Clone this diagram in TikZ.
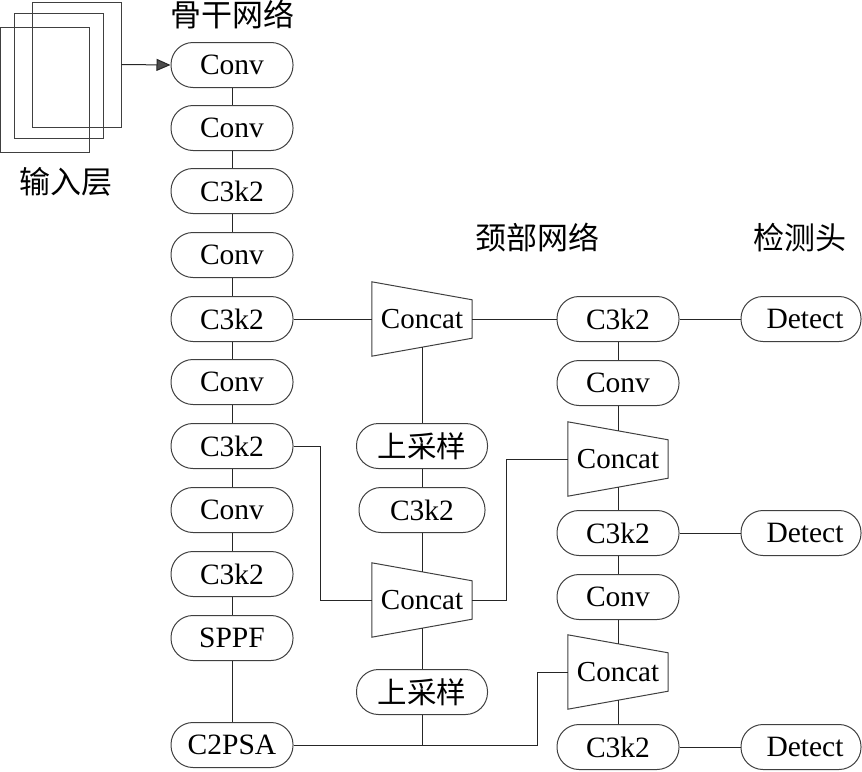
\documentclass[tikz,border=0pt]{standalone}
\usepackage{fontspec}
\setmainfont{Liberation Serif}
\newfontfamily\cjk{Noto Sans CJK SC}
\usetikzlibrary{arrows.meta}
\tikzset{
	block/.style={draw=black!75, line width=1pt, rounded corners=22pt, minimum width=122pt, minimum height=45pt, inner sep=0pt, font=\fontsize{29.5}{31}\selectfont}, % rounded boxes
	concat/.style={minimum width=100pt, minimum height=74pt, inner sep=0pt, font=\fontsize{29}{31}\selectfont},
	cn/.style={font=\cjk\fontsize{29.5}{31}\selectfont},
	title/.style={inner sep=0pt, font=\cjk\fontsize{31}{33}\selectfont},
	link/.style={draw=black!85, line width=1pt},
	layer/.style={draw=black!75, line width=1pt, minimum width=89pt, minimum height=125pt, inner sep=0pt},
}
% trapezoid round a concat node, wide side on the left
\newcommand{\concatbox}[1]{%
	\draw[link, draw=black!75] (#1.north west) -- ([yshift=-18pt]#1.north east) -- ([yshift=18pt]#1.south east) -- (#1.south west) -- cycle;
	\coordinate (#1-t) at ([yshift=-9pt]#1.north);
	\coordinate (#1-b) at ([yshift=9pt]#1.south);
}
\begin{document}
\begin{tikzpicture}[x=1pt, y=-1pt]
	\useasboundingbox (0,0) rectangle (862,771);
	
	% input layer
	\node[layer] (inA) at (76.5,64.5) {};
	\node[layer] (inB) at (59,75.5) {};
	\node[layer] (inC) at (45,89.5) {};
	\node[title] (inlabel) at (66,182) {输入层};
	
	% titles
	\node[title] (backbone) at (232,15) {骨干网络};
	\node[title] (neck) at (537,238) {颈部网络};
	\node[title] (head) at (800,238) {检测头};
	
	% backbone
	\node[block] (b1) at (232,65) {Conv};
	\node[block] (b2) at (232,128) {Conv};
	\node[block] (b3) at (232,191) {C3k2};
	\node[block] (b4) at (232,255) {Conv};
	\node[block] (b5) at (232,319) {C3k2};
	\node[block] (b6) at (232,382) {Conv};
	\node[block] (b7) at (232,446) {C3k2};
	\node[block] (b8) at (232,510) {Conv};
	\node[block] (b9) at (232,574) {C3k2};
	\node[block] (b10) at (232,638) {SPPF};
	\node[block] (b11) at (232,745) {C2PSA};
	
	% neck, first column
	\node[concat] (catA) at (422,319) {Concat};
	\concatbox{catA}
	\node[block, cn, minimum width=131pt] (upA) at (422,446) {上采样};
	\node[block, minimum width=126pt] (nA) at (422,510) {C3k2};
	\node[concat] (catB) at (422,600) {Concat};
	\concatbox{catB}
	\node[block, cn, minimum width=131pt] (upB) at (422,692) {上采样};
	
	% neck, second column
	\node[block] (nB) at (618,319) {C3k2};
	\node[block] (convB) at (618,383) {Conv};
	\node[concat] (catC) at (618,459) {Concat};
	\concatbox{catC}
	\node[block] (nC) at (618,533) {C3k2};
	\node[block] (convC) at (618,597) {Conv};
	\node[concat] (catD) at (618,672) {Concat};
	\concatbox{catD}
	\node[block] (nD) at (618,747) {C3k2};
	
	% heads
	\node[block, minimum width=120pt] (d1) at (801,319) {\hspace{8pt}Detect};
	\node[block, minimum width=120pt] (d2) at (801,533) {\hspace{8pt}Detect};
	\node[block, minimum width=120pt] (d3) at (801,747) {\hspace{8pt}Detect};
	
	% input arrow
	\draw[link, -{Triangle[length=14pt, width=12pt, fill=black!70]}] (inA.east) -- (b1.west);
	
	% backbone links
	\draw[link] (b1) -- (b2) -- (b3) -- (b4) -- (b5) -- (b6) -- (b7) -- (b8) -- (b9) -- (b10) -- (b11);
	
	% neck links
	\draw[link] (b5.east) -- (catA.west);
	\draw[link] (catA.east) -- (nB.west);
	\draw[link] (catA-b) -- (upA.north);
	\draw[link] (upA) -- (nA);
	\draw[link] (nA.south) -- (catB-t);
	\draw[link] (b7.east) -- ([xshift=27pt]b7.east) |- (catB.west);
	\draw[link] (catB.east) -- ([xshift=34pt]catB.east) |- (catC.west);
	\draw[link] (catB-b) -- (upB.north);
	\draw[link] (upB.south) -- (upB.south |- b11.east);
	\draw[link] (b11.east) -| ([xshift=-30pt]catD.west) -- (catD.west);
	
	\draw[link] (nB) -- (convB);
	\draw[link] (convB.south) -- (catC-t);
	\draw[link] (catC-b) -- (nC.north);
	\draw[link] (nC) -- (convC);
	\draw[link] (convC.south) -- (catD-t);
	\draw[link] (catD-b) -- (nD.north);
	
	% to the heads
	\draw[link] (nB) -- (d1);
	\draw[link] (nC) -- (d2);
	\draw[link] (nD) -- (d3);
\end{tikzpicture}
\end{document}
